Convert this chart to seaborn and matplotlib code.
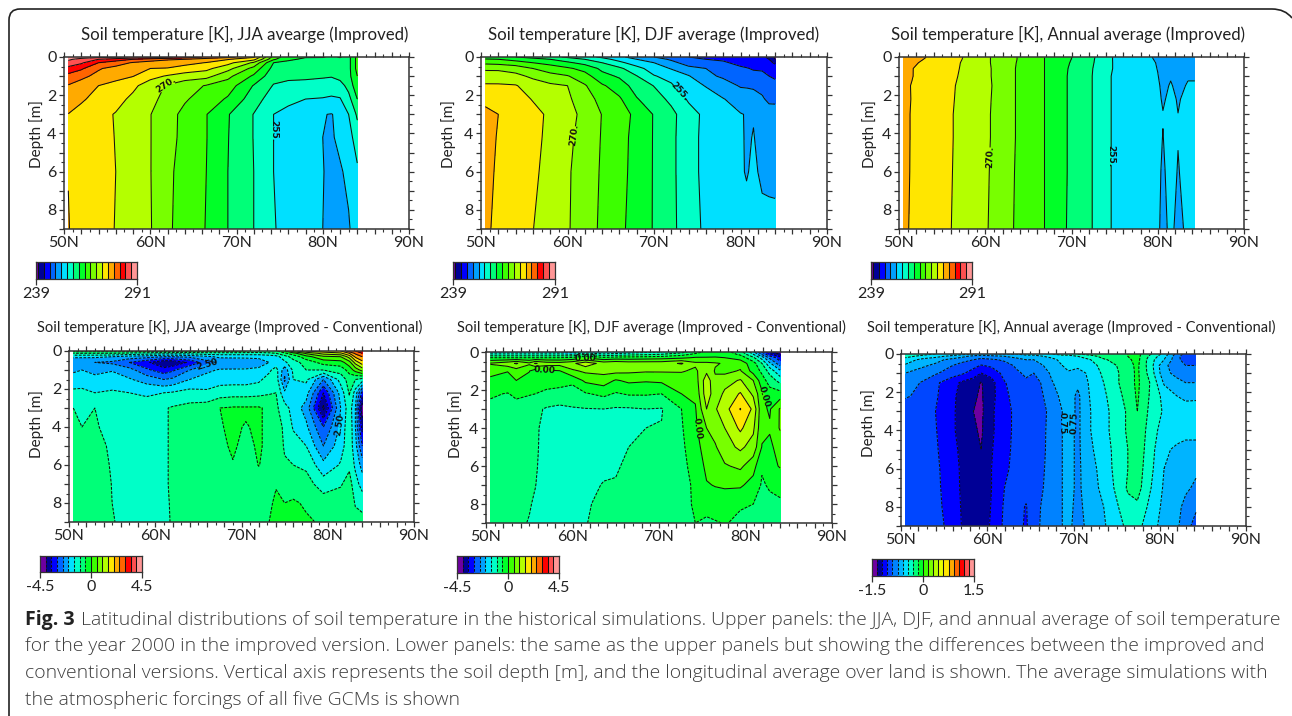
"""
Soil temperature sections by latitude and depth, six panels and caption.
"""

import numpy as np
import matplotlib
matplotlib.use("Agg")
import matplotlib.pyplot as plt
import seaborn as sns

from matplotlib.colors import BoundaryNorm, ListedColormap
from matplotlib.patches import PathPatch
from matplotlib.path import Path

depths = [0, 0.12, 0.3, 0.6, 1, 1.5, 2.2, 3, 4.2, 6, 9]
depths_diff = [0, 0.12, 0.3, 0.6, 1, 1.5, 2.2, 3, 4, 5, 6, 7, 8, 9]

lat_jja = [50.5, 52, 54, 56, 58, 60, 62, 64, 66.5, 69, 72, 74.3, 76, 78, 80, 81, 82, 83, 84]
temp_jja = [
    [289.8, 289.5, 289, 288.5, 287.8, 287, 285.5, 284, 281.5, 280, 276.5, 266, 262, 261.2, 261.2, 260.5, 261.2, 260, 265],
    [288.5, 287, 285, 283.5, 282, 280.5, 279.5, 279, 277.5, 276.2, 274, 264.5, 261.5, 260.5, 260.3, 260.6, 260.5, 260, 265],
    [287, 285.5, 282, 280.5, 278.7, 277.8, 277, 276.8, 275.9, 274, 269.5, 261, 260.3, 260, 259.5, 259.6, 260.3, 260, 265],
    [284, 282.5, 279.3, 278, 277.2, 276, 275.9, 275, 273.8, 271, 266, 260, 259.8, 259.6, 259, 259, 259.8, 260, 265],
    [281, 279.7, 278.2, 276.6, 276.1, 274, 272.7, 271.5, 271, 267.8, 263.5, 259, 258.6, 258.6, 258.3, 258.2, 259, 260, 264],
    [278.8, 277.8, 276, 275.4, 273.7, 271.4, 269.7, 268.3, 266.8, 265.5, 260.8, 257.8, 257.3, 257, 256.9, 256.4, 256.8, 259, 263],
    [277.2, 276.4, 275, 274.1, 272.3, 270.9, 268.9, 267.3, 265.8, 263.6, 259.4, 256.4, 255.5, 255, 254.8, 254.6, 254.8, 257, 261],
    [275.95, 275, 274, 272.8, 271.3, 270.1, 268, 266.3, 264.1, 261.2, 257.9, 255, 254.4, 253.5, 252.1, 251.9, 252.6, 255, 258.5],
    [275.95, 275, 274, 272.9, 271.4, 270.1, 268, 266.2, 264.1, 261.1, 257.9, 255, 254.2, 253.2, 252, 251.8, 252.4, 253.8, 256.5],
    [275.95, 275, 274, 273, 271.5, 270.1, 267.8, 265.6, 264, 261, 258, 255, 254, 253, 252.05, 251.7, 251.8, 252.4, 254.5],
    [276.1, 275, 274, 272.9, 271.5, 270.2, 267.6, 265.5, 263.9, 261, 258, 255.2, 254, 253, 252, 251.6, 251.4, 251.8, 253],
]

lat_djf = [50.5, 52, 54, 56, 58, 60, 62, 64, 66, 68, 70, 72, 74, 76, 78, 80, 80.7, 81.5, 82.5, 83.3, 84]
temp_djf = [
    [262, 261.7, 261, 260, 259, 257.5, 256, 254.5, 252.5, 251, 249, 247.5, 246, 245.5, 245, 244.5, 244, 244, 243.5, 242.5, 239.5],
    [264.3, 264, 263, 262, 261, 259.5, 258, 256, 254, 252, 250.5, 248.5, 247, 246, 245.5, 244.6, 244.4, 244.2, 244, 243, 240],
    [266.3, 266, 265.2, 264, 263, 261.5, 260, 258, 255.7, 253.5, 252, 250, 247.5, 246.2, 246.5, 245, 244.8, 244.6, 244.5, 243.8, 242.5],
    [269.5, 269.5, 268.8, 267, 265.6, 264.5, 263, 260.3, 258.6, 256, 253.6, 251.8, 250, 249, 248.3, 246.6, 246.2, 245.7, 245.5, 245, 244.5],
    [271.4, 271.3, 270.8, 269.4, 268, 267.2, 265.2, 262, 260.6, 258.1, 255.2, 254, 252.2, 249.8, 248.5, 247.3, 247.2, 247, 247, 246, 245.5],
    [273.4, 273.4, 273.2, 271.5, 270.6, 270, 267.3, 264.4, 262.5, 259.7, 257.9, 255.4, 252.8, 251.9, 250.5, 248.7, 248.6, 248.5, 248.3, 247.5, 247],
    [275.6, 275.4, 274.4, 272.8, 271.9, 270.6, 268.1, 266.2, 264.4, 261.2, 259.3, 257.3, 254.6, 252.9, 252.1, 251, 250.9, 250.3, 249.3, 248.5, 248.5],
    [276.4, 276, 274.6, 274, 272.4, 271, 269.2, 266.9, 265.1, 263.4, 260.8, 258.8, 256.2, 254.3, 253.3, 252.1, 251.9, 251.93, 251.2, 250.1, 250],
    [276.5, 275.9, 274.5, 273.8, 272.3, 270.7, 268.8, 266.8, 265, 263.1, 260.8, 258.7, 256.1, 254.2, 253.2, 252.2, 251.85, 252.05, 251.6, 251, 251],
    [276.6, 275.7, 274.4, 273.5, 272.1, 270.4, 268.4, 266.7, 265, 262.9, 260.8, 258.7, 256.1, 254.2, 253.2, 252.45, 251.75, 252.6, 251.4, 251.3, 251.3],
    [276.3, 275.6, 274.2, 273.05, 271.7, 270.3, 268.3, 266.5, 264.7, 262.7, 260.8, 258.8, 256.2, 254.5, 253.8, 253.4, 253.3, 253.2, 253, 252.9, 252.8],
]

lat_ann = [50.5, 51.5, 53, 55, 57, 59, 60.6, 62, 63.5, 65, 66.8, 69.5, 72.4, 74.6, 77, 79.5, 80, 80.6, 81.5, 82.35, 83.5, 84.3]
temp_ann = [
    [277.3, 276.9, 276.1, 274.6, 273.4, 271.4, 270, 268.6, 267.2, 265.6, 264, 261.6, 258.5, 255.1, 253.6, 251.9, 251.7, 251.3, 251.4, 251.3, 251.3, 251.3],
    [277.2, 276.8, 275.9, 274.5, 273.3, 271.4, 270, 268.6, 267.2, 265.6, 264, 261.5, 258.4, 255.1, 253.6, 252, 251.8, 251.4, 251.5, 251.4, 251.4, 251.4],
    [277, 276.5, 275.5, 274.3, 273.1, 271.4, 270, 268.5, 267.1, 265.5, 264, 261.3, 258.3, 255.1, 253.7, 252.1, 251.9, 251.45, 251.6, 251.45, 251.5, 251.5],
    [276.9, 276.1, 275.1, 274.1, 273, 271.4, 270.1, 268.5, 267, 265.5, 264, 261.1, 258.1, 255.1, 253.7, 252.2, 251.95, 251.5, 251.7, 251.5, 251.6, 251.6],
    [276.8, 276.1, 275, 274, 272.9, 271.4, 270.1, 268.5, 267, 265.5, 264, 261, 258, 255, 253.7, 252.3, 252.05, 251.6, 251.9, 251.6, 251.9, 251.9],
    [276.5, 275.9, 275, 274, 272.7, 271.3, 270.2, 268.6, 267, 265.5, 264, 261, 258, 255, 253.8, 252.5, 252.2, 251.7, 252.1, 251.7, 252.1, 252.1],
    [276.7, 275.9, 275, 274, 272.6, 271.2, 270.1, 268.5, 267, 265.5, 264, 261, 258, 255, 253.8, 252.6, 252.3, 251.85, 252.3, 251.9, 252.3, 252.4],
    [276.7, 275.8, 275, 273.9, 272.5, 271.1, 270, 268.4, 267, 265.5, 264, 261, 258, 255, 253.8, 252.6, 252.3, 252.05, 252.4, 252.01, 252.5, 252.6],
    [276.7, 275.8, 275, 273.9, 272.5, 271.1, 270, 268.4, 267, 265.5, 264, 261, 258, 255, 253.8, 252.6, 252.3, 251.97, 252.5, 252.05, 252.5, 252.6],
    [276.6, 275.8, 275, 273.9, 272.4, 271.1, 269.9, 268.3, 266.9, 265.5, 264, 261, 258, 255, 253.8, 252.6, 252.3, 251.8, 252.5, 251.92, 252.5, 252.6],
    [276.5, 275.7, 275, 273.8, 272.3, 271, 269.8, 268.2, 266.8, 265.5, 264, 260.9, 258, 255, 253.8, 252.6, 252.3, 251.5, 252.4, 251.5, 252.4, 252.5],
]

lat_jja_diff = [50.5, 51.5, 53, 55, 57, 59, 61, 62, 64, 66, 67.5, 69, 70.5, 72, 73.2, 74, 75, 76, 77.5, 79.5, 81.5, 82.5, 83.2, 84]
diff_jja = [
    [-.3, -.3, -.3, -.3, -.3, -.3, -.2, -.3, -.4, -.4, -.4, -.4, -.5, -.6, -.6, -.6, 0, .8, 1.5, 1.8, 2, 2.8, 3, 3.2],
    [-1, -1, -1, -1, -1.1, -1.2, -1.3, -1.3, -1.3, -1.2, -1.2, -1.2, -1.2, -1.2, -1.1, -1, -.6, -.2, .6, 1.2, 1.4, 2, 2.6, 3],
    [-1.9, -1.9, -1.9, -2, -2.2, -2.3, -2.5, -2.5, -2.4, -2.1, -1.9, -1.9, -1.9, -1.9, -1.8, -1.7, -1.2, -.8, -.2, .4, .5, 1.2, 2.1, 2.5],
    [-2.45, -2.45, -2.5, -2.6, -3, -3.4, -3.95, -3.9, -3.4, -2.7, -2.4, -2.35, -2.3, -2.2, -2, -1.8, -1.6, -1.2, -.8, -.3, -.2, .3, 1.2, 1.8],
    [-2.1, -2, -2.15, -2.05, -2.3, -2.9, -3.3, -3.1, -2.5, -2.1, -1.95, -1.95, -1.95, -1.9, -1.6, -1.3, -2.3, -1.4, -1, -1, -.8, -.3, .2, .7],
    [-1.75, -1.7, -1.85, -1.7, -1.95, -2.2, -2.5, -2.4, -2, -1.8, -1.7, -1.7, -1.7, -1.6, -1.3, -1.2, -2.6, -1.5, -1.4, -2.5, -1.3, -.8, -1, -1.2],
    [-1.4, -1.4, -1.5, -1.45, -1.5, -1.6, -1.5, -1.45, -1.3, -1.4, -1.25, -1.2, -1.2, -1.15, -1.05, -1, -1.9, -1.6, -1.8, -3.5, -1.8, -.95, -1.7, -3.2],
    [-1, -1.15, -1, -1.2, -1.2, -1.2, -1.05, -.95, -.85, -.75, -.5, -.45, -.45, -.45, -.6, -.9, -1.3, -1.7, -2.2, -4.1, -2, -1.2, -2, -4.4],
    [-.9, -1, -.95, -1.15, -1.2, -1.2, -1.05, -.95, -.85, -.75, -.52, -.45, -.52, -.45, -.6, -.75, -1.1, -1.55, -1.9, -3, -1.9, -1.1, -2, -3.7],
    [-.85, -.9, -.9, -1.05, -1.15, -1.15, -1.05, -.95, -.85, -.75, -.58, -.45, -.6, -.45, -.6, -.7, -1.05, -1.3, -1.5, -2.5, -1.7, -1.2, -1.8, -3],
    [-.85, -.85, -.85, -1.03, -1.15, -1.15, -1.05, -.95, -.85, -.75, -.62, -.52, -.65, -.49, -.6, -.65, -.95, -1, -1.1, -1.85, -1.45, -1.1, -1.6, -2.2],
    [-.8, -.8, -.8, -1.01, -1.15, -1.15, -1.05, -.95, -.85, -.75, -.7, -.65, -.7, -.65, -.6, -.52, -.75, -.7, -.8, -1.25, -1.05, -.8, -1.3, -1.7],
    [-.8, -.8, -.8, -1, -1.1, -1.1, -1.05, -.97, -.85, -.75, -.7, -.7, -.7, -.65, -.55, -.45, -.5, -.45, -.55, -.75, -.75, -.65, -1.05, -1.2],
    [-.75, -.75, -.75, -.98, -1.1, -1.1, -1.05, -.98, -.85, -.75, -.7, -.7, -.7, -.65, -.5, -.4, -.45, -.42, -.45, -.55, -.55, -.5, -.8, -.8],
]

lat_djf_diff = [50.5, 52.5, 53.5, 55, 55.7, 57, 58.5, 60, 61.5, 63.6, 65, 66.5, 68.5, 70.3, 72.6, 74.2, 75.5, 76.5, 77.6, 79.4, 80.9, 81.9, 82.8, 84]
diff_djf = [
    [-2, -2, -2, -2, -2, -2, -2, -2.1, -1.9, -2, -1.9, -1.8, -1.6, -1.5, -1.2, -.7, -.4, -.3, -.3, -.8, -1.8, -3, -3.9, -4.4],
    [-1.4, -1.4, -1.4, -1.4, -1.4, -1.4, -1.4, -1.5, -1, -1.4, -1.3, -1.2, -1.1, -1, -.7, -.4, -.3, -.2, -.2, -.6, -1.5, -2.6, -3.4, -4],
    [-.5, -.5, -.5, -.5, -.5, -.5, -.5, -.4, -.05, -.4, -.3, -.3, -.25, -.2, -.1, .05, .05, .05, 0, -.2, -.9, -1.7, -2.6, -3.3],
    [.55, .8, 1.05, .6, 1.05, .75, .7, .9, 1.3, .8, .9, .8, .8, .8, 1.05, .6, .6, .55, .45, .3, -.3, -1, -1.9, -2.8],
    [.15, .02, .25, .02, -.3, -.1, -.03, .4, .6, .65, .65, .6, .55, .55, .55, .4, .9, .45, .35, .55, -.2, -.6, -1.2, -1.9],
    [-.1, -.2, 0, -.15, -.35, -.3, -.25, -.35, .1, .25, -.05, .1, .05, .1, .2, .25, 1.3, .6, .8, 1.05, .5, -.3, -.7, -1.2],
    [-.45, -.52, -.42, -.47, -.5, -.6, -.72, -.8, -.55, -.38, -.55, -.45, -.45, -.5, 0, .1, 1.3, .7, 1.1, 1.55, .9, .1, -.3, -.3],
    [-.6, -.7, -.65, -.75, -.9, -1.05, -1.1, -1.03, -1.02, -1, -1.05, -1.05, -1, -1.03, -.5, -.05, 1, .95, 1.3, 2.02, 1.4, .1, -.05, .55],
    [-.65, -.75, -.7, -.8, -.9, -1.2, -1.2, -1.2, -1.2, -1.15, -1.1, -1.05, -1, -.98, -.55, -.1, .5, .7, 1, 1.6, 1.1, .1, .05, .55],
    [-.7, -.8, -.75, -.85, -.92, -1.2, -1.2, -1.2, -1.2, -1.12, -1.08, -1, -.95, -.9, -.6, -.2, .25, .45, .8, 1.1, .8, -.02, -.1, .2],
    [-.75, -.8, -.8, -.9, -.95, -1.2, -1.2, -1.2, -1.15, -1.08, -1.03, -.95, -.9, -.85, -.65, -.3, .1, .25, .45, .6, .2, -.45, -.2, .05],
    [-.8, -.85, -.85, -.92, -.99, -1.2, -1.2, -1.2, -1.1, -.98, -.98, -.9, -.85, -.82, -.7, -.4, -.03, .02, .05, .08, -.2, -.55, -.45, -.4],
    [-.8, -.85, -.9, -.97, -1.05, -1.2, -1.2, -1.2, -1.05, -.9, -.9, -.85, -.82, -.8, -.7, -.42, -.3, -.2, -.2, -.45, -.5, -.65, -.6, -.55],
    [-.85, -.9, -.92, -1.02, -1.1, -1.2, -1.2, -1.2, -1.02, -.85, -.85, -.8, -.8, -.78, -.75, -.5, -.6, -.55, -.47, -.6, -.65, -.75, -.7, -.65],
]

lat_ann_diff = [50.5, 52.6, 54, 56, 57, 58.4, 59.3, 60.5, 62, 63.4, 64.5, 65.4, 66.5, 67.5, 68.7, 69.4, 70.5, 72, 73.5, 75, 76.3, 77.4, 79, 80.5, 82, 83, 84.2]
diff_ann = [
    [-.3, -.4, -.45, -.5, -.55, -.6, -.62, -.6, -.6, -.6, -.55, -.55, -.5, -.45, -.4, -.4, -.3, -.25, -.2, -.2, -.15, -.1, -.3, -.5, -.8, -.95, -1],
    [-.4, -.5, -.55, -.65, -.7, -.8, -.85, -.8, -.75, -.7, -.65, -.65, -.6, -.55, -.5, -.5, -.45, -.35, -.25, -.22, -.15, -.1, -.35, -.55, -.85, -1, -1.05],
    [-.52, -.65, -.7, -.8, -.85, -.9, -.93, -.92, -.88, -.8, -.75, -.75, -.7, -.65, -.55, -.55, -.5, -.45, -.32, -.25, -.18, -.1, -.4, -.6, -.85, -.98, -1],
    [-.62, -.73, -.78, -.9, -.95, -1, -1.06, -1.02, -.95, -.88, -.82, -.82, -.75, -.68, -.6, -.55, -.55, -.52, -.38, -.3, -.2, -.12, -.4, -.72, -.82, -.9, -.9],
    [-.75, -.82, -.88, -.98, -1.02, -1.12, -1.2, -1.15, -1, -.92, -.88, -.9, -.82, -.72, -.65, -.62, -.68, -.55, -.42, -.32, -.22, -.12, -.38, -.7, -.8, -.82, -.82],
    [-.82, -.92, -1.02, -1.15, -1.22, -1.28, -1.36, -1.25, -1.06, -.98, -.92, -.95, -.88, -.76, -.68, -.68, -.72, -.57, -.45, -.32, -.22, -.12, -.32, -.62, -.7, -.75, -.75],
    [-.88, -.95, -1.03, -1.17, -1.25, -1.33, -1.37, -1.25, -1.08, -1, -.96, -.95, -.9, -.8, -.72, -.68, -.78, -.58, -.48, -.35, -.25, -.13, -.33, -.5, -.6, -.65, -.65],
    [-1, -1.02, -1.05, -1.18, -1.25, -1.35, -1.38, -1.22, -1.12, -1, -.98, -.95, -.93, -.85, -.75, -.68, -.78, -.6, -.5, -.38, -.28, -.15, -.35, -.47, -.55, -.5, -.48],
    [-1, -1.02, -1.04, -1.18, -1.25, -1.33, -1.37, -1.22, -1.12, -1, -.98, -.95, -.92, -.85, -.75, -.7, -.78, -.6, -.5, -.38, -.28, -.18, -.38, -.52, -.55, -.58, -.58],
    [-1, -1.02, -1.03, -1.16, -1.23, -1.3, -1.35, -1.21, -1.1, -1, -.98, -.95, -.92, -.84, -.75, -.7, -.78, -.62, -.52, -.4, -.3, -.2, -.4, -.58, -.62, -.62, -.62],
    [-.99, -1, -1.02, -1.14, -1.22, -1.29, -1.33, -1.2, -1.08, -1, -.98, -.95, -.91, -.84, -.75, -.7, -.78, -.65, -.54, -.4, -.3, -.22, -.42, -.6, -.62, -.68, -.72],
    [-.98, -1, -1.02, -1.12, -1.22, -1.28, -1.32, -1.2, -1.05, -1, -1, -.95, -.9, -.83, -.75, -.7, -.78, -.66, -.56, -.42, -.28, -.24, -.45, -.62, -.68, -.72, -.78],
    [-.97, -.99, -1.02, -1.1, -1.21, -1.27, -1.3, -1.19, -1.03, -1, -1.06, -.95, -.88, -.83, -.75, -.71, -.79, -.68, -.6, -.47, -.35, -.33, -.5, -.64, -.7, -.8, -.88],
    [-.97, -.99, -1.02, -1.08, -1.2, -1.27, -1.28, -1.18, -1.02, -1, -1.07, -.95, -.87, -.82, -.75, -.72, -.8, -.7, -.62, -.5, -.42, -.4, -.55, -.65, -.72, -.85, -.95],
]

colors_18 = [
    "#6e00a0", "#000096", "#0000ff", "#0064ff", "#00a0ff", "#00e0ff", "#00ffc8", "#00ff78", "#00ff28",
    "#3cff00", "#78ff00", "#b4ff00", "#ffe600", "#ffaa00", "#ff6400", "#ff0000", "#ff5050", "#ff9696",
]
colors_20 = [
    "#6e00a0", "#000096", "#0000ff", "#0046ff", "#0082ff", "#00b4ff", "#00e0ff", "#00ffc8", "#00ff78", "#00ff28",
    "#3cff00", "#78ff00", "#b4ff00", "#e6ff00", "#ffe600", "#ffaa00", "#ff6400", "#ff0000", "#ff5050", "#ff9696",
]

levels_temp = np.r_[239, np.arange(240, 292, 3)]
levels_jd = np.arange(-4.5, 4.51, 0.5)
levels_ann = np.arange(-1.5, 1.51, 0.15)

W, H = 1292, 716
CAPTION = [
    "Latitudinal distributions of soil temperature in the historical simulations. Upper panels: the JJA, DJF, and annual average of soil temperature",
    "for the year 2000 in the improved version. Lower panels: the same as the upper panels but showing the differences between the improved and",
    "conventional versions. Vertical axis represents the soil depth [m], and the longitudinal average over land is shown. The average simulations with",
    "the atmospheric forcings of all five GCMs is shown",
]

panels = [
    dict(lat=lat_jja, dep=depths, z=temp_jja, lev=levels_temp, col=colors_18, box=(64, 57, 409, 229), bar=(36, 262, 137, 279),
         title="Soil temperature [K], JJA avearge (Improved)", tc=(245, 34), yl=(37, 134), size=12.1,
         marks=["239", "291"], labels=[("270.", (61.8, 1.4)), ("255.", (74.4, 3.9))]),
    dict(lat=lat_djf, dep=depths, z=temp_djf, lev=levels_temp, col=colors_18, box=(481, 57, 827, 229), bar=(453, 262, 555, 279),
         title="Soil temperature [K], DJF average (Improved)", tc=(654, 34), yl=(449, 134), size=12.1,
         marks=["239", "291"], labels=[("270.", (60.9, 4.1)), ("255.", (73.2, 1.7))]),
    dict(lat=lat_ann, dep=depths, z=temp_ann, lev=levels_temp, col=colors_18, box=(899, 57, 1244, 229), bar=(871, 262, 972, 279),
         title="Soil temperature [K], Annual average (Improved)", tc=(1068, 34), yl=(870, 134), size=12.1,
         marks=["239", "291"], labels=[("270.", (60.5, 5.2)), ("255.", (74.7, 5.2))]),
    dict(lat=lat_jja_diff, dep=depths_diff, z=diff_jja, lev=levels_jd, col=colors_18, box=(69, 351, 414, 522), bar=(40, 556, 142, 572),
         title="Soil temperature [K], JJA avearge (Improved - Conventional)", tc=(230, 327), yl=(37, 424), size=10.5,
         marks=["-4.5", "0", "4.5"], labels=[("2.50", (66, .75)), ("2.50", (81.2, 3.9))]),
    dict(lat=lat_djf_diff, dep=depths_diff, z=diff_djf, lev=levels_jd, col=colors_18, box=(486, 352, 832, 523), bar=(457, 556, 559, 573),
         title="Soil temperature [K], DJF average (Improved - Conventional)", tc=(651, 327), yl=(456, 424), size=10.5,
         marks=["-4.5", "0", "4.5"], labels=[("0.00", (61.5, .35)), ("0.00", (56.8, 1.1)), ("0.00", (74.8, 4)), ("0.00", (81.9, 2.4))]),
    dict(lat=lat_ann_diff, dep=depths_diff, z=diff_ann, lev=levels_ann, col=colors_20, box=(901, 354, 1246, 526), bar=(872, 559, 974, 576),
         title="Soil temperature [K], Annual average (Improved - Conventional)", tc=(1071, 327), yl=(869, 423), size=10.5,
         marks=["-1.5", "0", "1.5"], labels=[("0.75", (68.7, 3.6)), ("0.75", (70, 3.6))]),
]


def add_axes_px(fig, box):
    x0, y0, x1, y1 = box
    return fig.add_axes([x0 / W, 1 - y1 / H, (x1 - x0) / W, (y1 - y0) / H])


def draw_panel(fig, p):
    ax = add_axes_px(fig, p["box"])
    cmap = ListedColormap(p["col"])
    norm = BoundaryNorm(p["lev"], cmap.N)
    z = np.array(p["z"])
    ax.contourf(p["lat"], p["dep"], z, levels=p["lev"], cmap=cmap, norm=norm)
    cs = ax.contour(p["lat"], p["dep"], z, levels=p["lev"][1:-1], colors="#111111", linewidths=0.75)

    ax.set_xlim(50, 90)
    ax.set_ylim(9, 0)
    for text, pos in p["labels"]:
        ax.clabel(cs, manual=[pos], fmt=lambda v, t=text: t, fontsize=6.5, inline_spacing=0)
    for label in cs.labelTexts:
        label.set_fontweight("bold")
        label.set_family("DejaVu Sans")

    ax.set_xticks(np.arange(50, 91, 2))
    ax.set_xticks(np.arange(50, 91, 1), minor=True)
    ax.set_xticklabels([f"{v}N" if v % 10 == 0 else "" for v in range(50, 91, 2)])
    ax.set_yticks(np.arange(0, 9.1, 1))
    ax.set_yticks(np.arange(0, 9.1, 0.5), minor=True)
    ax.set_yticklabels([f"{v}" if v % 2 == 0 else "" for v in range(10)])
    ax.tick_params(which="major", direction="out", length=3.8, width=0.9, top=True, right=True,
                   labelsize=11.5, pad=1.5, color="#333333", labelcolor="#222222")
    ax.tick_params(which="minor", direction="out", length=2.2, width=0.8, top=True, right=True, color="#333333")
    for side in ax.spines.values():
        side.set_linewidth(1.1)
        side.set_color("#333333")

    fig.text(p["tc"][0] / W, 1 - p["tc"][1] / H, p["title"], ha="center", va="center", fontsize=p["size"], color="#222222")
    fig.text(p["yl"][0] / W, 1 - p["yl"][1] / H, "Depth [m]", rotation=90, ha="center", va="center", fontsize=11, color="#222222")


def draw_bar(fig, p):
    cax = add_axes_px(fig, p["bar"])
    lev = p["lev"]
    cmap = ListedColormap(p["col"])
    norm = BoundaryNorm(lev, cmap.N)
    n = 52 if len(p["marks"]) == 2 else len(p["col"])
    cells = np.linspace(lev[0], lev[-1], n + 1)
    mids = (cells[:-1] + cells[1:]) / 2
    sns.heatmap(mids[None, :], cmap=cmap, norm=norm, cbar=False, ax=cax, xticklabels=False, yticklabels=False)
    pos = (np.array(lev[1:-1]) - lev[0]) / (lev[-1] - lev[0]) * n
    for x, v in zip(pos, lev[1:-1]):
        cax.plot([x, x], [0, 1], color="#111111", lw=0.75, ls="--" if v < -1e-6 else "-")
    cax.set_xticks(np.linspace(0, n, len(p["marks"])))
    cax.set_xticklabels(p["marks"], rotation=0)
    cax.tick_params(axis="x", direction="out", length=4.5, width=0.9, labelsize=11.5, pad=1, color="#333333", labelcolor="#222222", bottom=True)
    cax.tick_params(axis="y", length=0)
    for side in cax.spines.values():
        side.set_visible(True)
        side.set_linewidth(0.9)
        side.set_color("#333333")


def main():
    sns.set_theme(style="ticks", rc={"axes.grid": False, "figure.facecolor": "white"})
    plt.rcParams["font.family"] = ["Lato", "DejaVu Sans"]
    plt.rcParams["contour.negative_linestyle"] = "dashed"
    plt.rcParams["lines.dashed_pattern"] = (2.6, 1.4)

    fig = plt.figure(figsize=(W / 100, H / 100), dpi=100)

    # frame: only the top edge and the left edge, with rounded corners
    frame = Path(
        [(9 / W, 0), (9 / W, 1 - 20 / H), (9 / W, 1 - 9 / H), (20 / W, 1 - 9 / H),
         (1272 / W, 1 - 9 / H), (1285 / W, 1 - 9 / H), (1292 / W, 1 - 18 / H)],
        [Path.MOVETO, Path.LINETO, Path.CURVE3, Path.CURVE3, Path.LINETO, Path.CURVE3, Path.CURVE3],
    )
    fig.add_artist(PathPatch(frame, fc="none", ec="#222222", lw=1.2, transform=fig.transFigure))

    for p in panels:
        draw_panel(fig, p)
        draw_bar(fig, p)

    cap_font = ["Open Sans", "DejaVu Sans"]
    head = fig.text(25 / W, 1 - 620 / H, "Fig. 3", fontsize=14, fontweight="bold", va="center", color="#222222", family=cap_font)
    fig.canvas.draw()
    head_end = head.get_window_extent().x1
    fig.text((head_end + 6) / W, 1 - 620 / H, CAPTION[0], fontsize=13.95, va="center", color="#3d3d3d", fontweight="light", family=cap_font)
    for line, y in zip(CAPTION[1:], [646, 673, 700]):
        fig.text(25 / W, 1 - y / H, line, fontsize=13.95, va="center", color="#3d3d3d", fontweight="light", family=cap_font)

    fig.savefig("out.png", dpi=100)


if __name__ == "__main__":
    main()
